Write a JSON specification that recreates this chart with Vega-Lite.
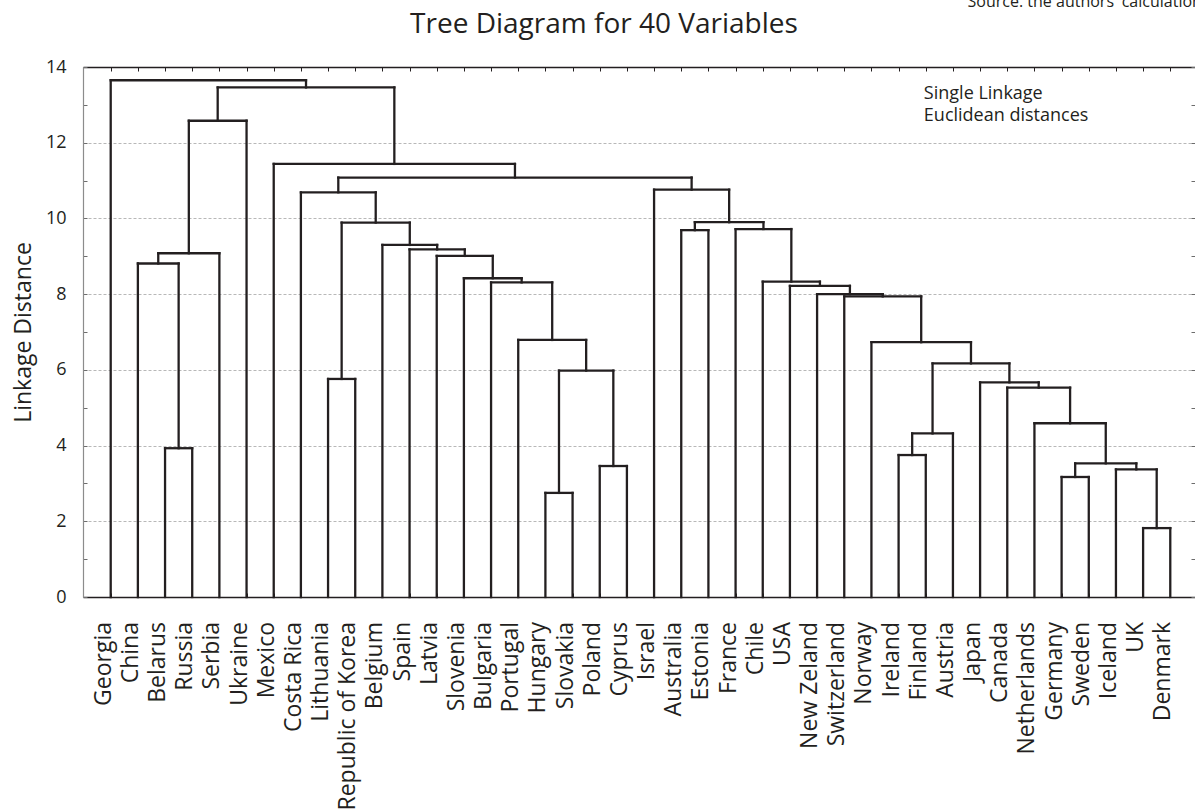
{
  "$schema": "https://vega.github.io/schema/vega-lite/v6.json",
  "width": 1112,
  "height": 530,
  "autosize": {"type": "none"},
  "padding": {"left": 83, "top": 67, "right": 0, "bottom": 215},
  "background": "white",
  "config": {
    "view": {"stroke": null},
    "axis": {"labelFont": "Open Sans", "titleFont": "Open Sans"}
  },
  "datasets": {
    "merges": [
      {"xl": 3, "hl": 0, "xr": 4, "hr": 0, "h": 3.93},
      {"xl": 2, "hl": 0, "xr": 3.5, "hr": 3.93, "h": 8.81},
      {"xl": 2.75, "hl": 8.81, "xr": 5, "hr": 0, "h": 9.08},
      {"xl": 3.875, "hl": 9.08, "xr": 6, "hr": 0, "h": 12.58},
      {"xl": 9, "hl": 0, "xr": 10, "hr": 0, "h": 5.76},
      {"xl": 17, "hl": 0, "xr": 18, "hr": 0, "h": 2.75},
      {"xl": 19, "hl": 0, "xr": 20, "hr": 0, "h": 3.46},
      {"xl": 17.5, "hl": 2.75, "xr": 19.5, "hr": 3.46, "h": 5.98},
      {"xl": 16, "hl": 0, "xr": 18.5, "hr": 5.98, "h": 6.79},
      {"xl": 15, "hl": 0, "xr": 17.25, "hr": 6.79, "h": 8.31},
      {"xl": 14, "hl": 0, "xr": 16.125, "hr": 8.31, "h": 8.42},
      {"xl": 13, "hl": 0, "xr": 15.0625, "hr": 8.42, "h": 9.01},
      {"xl": 12, "hl": 0, "xr": 14.03125, "hr": 9.01, "h": 9.18},
      {"xl": 11, "hl": 0, "xr": 13.015625, "hr": 9.18, "h": 9.30},
      {"xl": 9.5, "hl": 5.76, "xr": 12.0078125, "hr": 9.30, "h": 9.89},
      {"xl": 8, "hl": 0, "xr": 10.75390625, "hr": 9.89, "h": 10.69},
      {"xl": 22, "hl": 0, "xr": 23, "hr": 0, "h": 9.69},
      {"xl": 39, "hl": 0, "xr": 40, "hr": 0, "h": 1.82},
      {"xl": 38, "hl": 0, "xr": 39.5, "hr": 1.82, "h": 3.37},
      {"xl": 36, "hl": 0, "xr": 37, "hr": 0, "h": 3.17},
      {"xl": 36.5, "hl": 3.17, "xr": 38.75, "hr": 3.37, "h": 3.53},
      {"xl": 35, "hl": 0, "xr": 37.625, "hr": 3.53, "h": 4.59},
      {"xl": 34, "hl": 0, "xr": 36.3125, "hr": 4.59, "h": 5.53},
      {"xl": 33, "hl": 0, "xr": 35.15625, "hr": 5.53, "h": 5.67},
      {"xl": 30, "hl": 0, "xr": 31, "hr": 0, "h": 3.75},
      {"xl": 30.5, "hl": 3.75, "xr": 32, "hr": 0, "h": 4.32},
      {"xl": 31.25, "hl": 4.32, "xr": 34.078125, "hr": 5.67, "h": 6.17},
      {"xl": 29, "hl": 0, "xr": 32.6640625, "hr": 6.17, "h": 6.73},
      {"xl": 28, "hl": 0, "xr": 30.83203125, "hr": 6.73, "h": 7.94},
      {"xl": 27, "hl": 0, "xr": 29.416015625, "hr": 7.94, "h": 8.00},
      {"xl": 26, "hl": 0, "xr": 28.2080078125, "hr": 8.00, "h": 8.22},
      {"xl": 25, "hl": 0, "xr": 27.10400390625, "hr": 8.22, "h": 8.33},
      {"xl": 24, "hl": 0, "xr": 26.052001953125, "hr": 8.33, "h": 9.72},
      {"xl": 22.5, "hl": 9.69, "xr": 25.0260009765625, "hr": 9.72, "h": 9.90},
      {"xl": 21, "hl": 0, "xr": 23.76300048828125, "hr": 9.90, "h": 10.76},
      {"xl": 9.376953125, "hl": 10.69, "xr": 22.381500244140625, "hr": 10.76, "h": 11.08},
      {"xl": 7, "hl": 0, "xr": 15.879226684570312, "hr": 11.08, "h": 11.44},
      {"xl": 4.9375, "hl": 12.58, "xr": 11.439613342285156, "hr": 11.44, "h": 13.46},
      {"xl": 1, "hl": 0, "xr": 8.188556671142578, "hr": 13.46, "h": 13.65}
    ],
    "leaves": [
      {"name": "Georgia", "pos": 1},
      {"name": "China", "pos": 2},
      {"name": "Belarus", "pos": 3},
      {"name": "Russia", "pos": 4},
      {"name": "Serbia", "pos": 5},
      {"name": "Ukraine", "pos": 6},
      {"name": "Mexico", "pos": 7},
      {"name": "Costa Rica", "pos": 8},
      {"name": "Lithuania", "pos": 9},
      {"name": "Republic of Korea", "pos": 10},
      {"name": "Belgium", "pos": 11},
      {"name": "Spain", "pos": 12},
      {"name": "Latvia", "pos": 13},
      {"name": "Slovenia", "pos": 14},
      {"name": "Bulgaria", "pos": 15},
      {"name": "Portugal", "pos": 16},
      {"name": "Hungary", "pos": 17},
      {"name": "Slovakia", "pos": 18},
      {"name": "Poland", "pos": 19},
      {"name": "Cyprus", "pos": 20},
      {"name": "Israel", "pos": 21},
      {"name": "Australia", "pos": 22},
      {"name": "Estonia", "pos": 23},
      {"name": "France", "pos": 24},
      {"name": "Chile", "pos": 25},
      {"name": "USA", "pos": 26},
      {"name": "New Zeland", "pos": 27},
      {"name": "Switzerland", "pos": 28},
      {"name": "Norway", "pos": 29},
      {"name": "Ireland", "pos": 30},
      {"name": "Finland", "pos": 31},
      {"name": "Austria", "pos": 32},
      {"name": "Japan", "pos": 33},
      {"name": "Canada", "pos": 34},
      {"name": "Netherlands", "pos": 35},
      {"name": "Germany", "pos": 36},
      {"name": "Sweden", "pos": 37},
      {"name": "Iceland", "pos": 38},
      {"name": "UK", "pos": 39},
      {"name": "Denmark", "pos": 40}
    ]
  },
  "layer": [
    {
      "data": {"name": "merges"},
      "mark": {"type": "rule", "color": "#231f20", "strokeWidth": 2.3, "strokeCap": "square"},
      "encoding": {
        "x": {
          "field": "xl", "type": "quantitative",
          "scale": {"domain": [-0.02, 40.91], "nice": false, "zero": false},
          "axis": {
            "orient": "top", "title": null, "labels": false, "grid": false,
            "values": [1,2,3,4,5,6,7,8,9,10,11,12,13,14,15,16,17,18,19,20,21,22,23,24,25,26,27,28,29,30,31,32,33,34,35,36,37,38,39,40],
            "tickSize": -4, "tickColor": "#231f20", "tickWidth": 1,
            "domainColor": "#231f20", "domainWidth": 1.5
          }
        },
        "x2": {"field": "xr"},
        "y": {
          "field": "h", "type": "quantitative",
          "scale": {"domain": [0, 14], "nice": false, "zero": true},
          "axis": {
            "orient": "left",
            "title": "Linkage Distance",
            "titleFontSize": 23, "titleFontWeight": "normal", "titleColor": "#231f20", "titlePadding": 10,
            "values": [0,1,2,3,4,5,6,7,8,9,10,11,12,13,14],
            "labelExpr": "datum.value % 2 == 0 ? datum.label : ''",
            "labelFontSize": 18, "labelColor": "#231f20", "labelPadding": 21,
            "tickSize": -4, "tickColor": "#6d6d6d", "tickWidth": 1,
            "domainColor": "#8c8c8c", "domainWidth": 1.2,
            "grid": true, "gridColor": "#b8b8b8", "gridDash": [3, 2], "gridWidth": 1,
            "gridOpacity": {"condition": {"test": "datum.value % 2 == 0 && datum.value > 0 && datum.value < 14", "value": 1}, "value": 0}
          }
        }
      }
    },
    {
      "data": {"name": "merges"},
      "mark": {"type": "rule", "color": "#231f20", "strokeWidth": 2.3, "strokeCap": "square"},
      "encoding": {
        "x": {
          "field": "xl", "type": "quantitative",
          "axis": {
            "orient": "bottom", "title": null, "labels": false, "grid": false,
            "values": [1,2,3,4,5,6,7,8,9,10,11,12,13,14,15,16,17,18,19,20,21,22,23,24,25,26,27,28,29,30,31,32,33,34,35,36,37,38,39,40],
            "tickSize": -4, "tickColor": "#231f20",
            "domainColor": "#231f20", "domainWidth": 1.5
          }
        },
        "y": {
          "field": "hl", "type": "quantitative",
          "axis": {
            "orient": "right", "title": null, "labels": false, "grid": false, "domain": false,
            "values": [0,1,2,3,4,5,6,7,8,9,10,11,12,13,14],
            "tickSize": -4, "tickColor": "#6d6d6d"
          }
        },
        "y2": {"field": "h"}
      }
    },
    {
      "data": {"name": "merges"},
      "mark": {"type": "rule", "color": "#231f20", "strokeWidth": 2.3, "strokeCap": "square"},
      "encoding": {
        "x": {"field": "xr", "type": "quantitative", "axis": null},
        "y": {"field": "hr", "type": "quantitative", "axis": null},
        "y2": {"field": "h"}
      }
    },
    {
      "data": {"name": "leaves"},
      "mark": {"type": "text", "font": "Open Sans", "fontSize": 23, "color": "#231f20", "angle": 270, "align": "right", "baseline": "alphabetic", "dx": -25, "dy": 0},
      "encoding": {
        "x": {"field": "pos", "type": "quantitative", "axis": null},
        "y": {"datum": 0, "type": "quantitative", "axis": null},
        "text": {"field": "name"}
      }
    },
    {
      "data": {"values": [{}]},
      "mark": {"type": "text", "font": "Open Sans", "fontSize": 18, "color": "#231f20", "align": "left", "baseline": "alphabetic"},
      "encoding": {
        "x": {"datum": 30.93, "type": "quantitative", "axis": null},
        "y": {"datum": 13.15, "type": "quantitative", "axis": null},
        "text": {"value": "Single Linkage"}
      }
    },
    {
      "data": {"values": [{}]},
      "mark": {"type": "text", "font": "Open Sans", "fontSize": 18, "color": "#231f20", "align": "left", "baseline": "alphabetic"},
      "encoding": {
        "x": {"datum": 30.93, "type": "quantitative", "axis": null},
        "y": {"datum": 12.58, "type": "quantitative", "axis": null},
        "text": {"value": "Euclidean distances"}
      }
    },
    {
      "data": {"values": [{}]},
      "mark": {"type": "text", "font": "Open Sans", "fontSize": 16, "color": "#231f20", "align": "left", "baseline": "alphabetic"},
      "encoding": {
        "x": {"datum": 32.54, "type": "quantitative", "axis": null},
        "y": {"datum": 15.59, "type": "quantitative", "axis": null},
        "text": {"value": "Source: the authors' calculation"}
      }
    },
    {
      "data": {"values": [{}]},
      "mark": {"type": "text", "font": "Open Sans", "fontSize": 28, "color": "#231f20", "align": "center", "baseline": "alphabetic"},
      "encoding": {
        "x": {"datum": 19.155, "type": "quantitative", "axis": null},
        "y": {"datum": 14.9, "type": "quantitative", "axis": null},
        "text": {"value": "Tree Diagram for 40 Variables"}
      }
    }
  ],
  "resolve": {"axis": {"x": "independent", "y": "independent"}}
}
